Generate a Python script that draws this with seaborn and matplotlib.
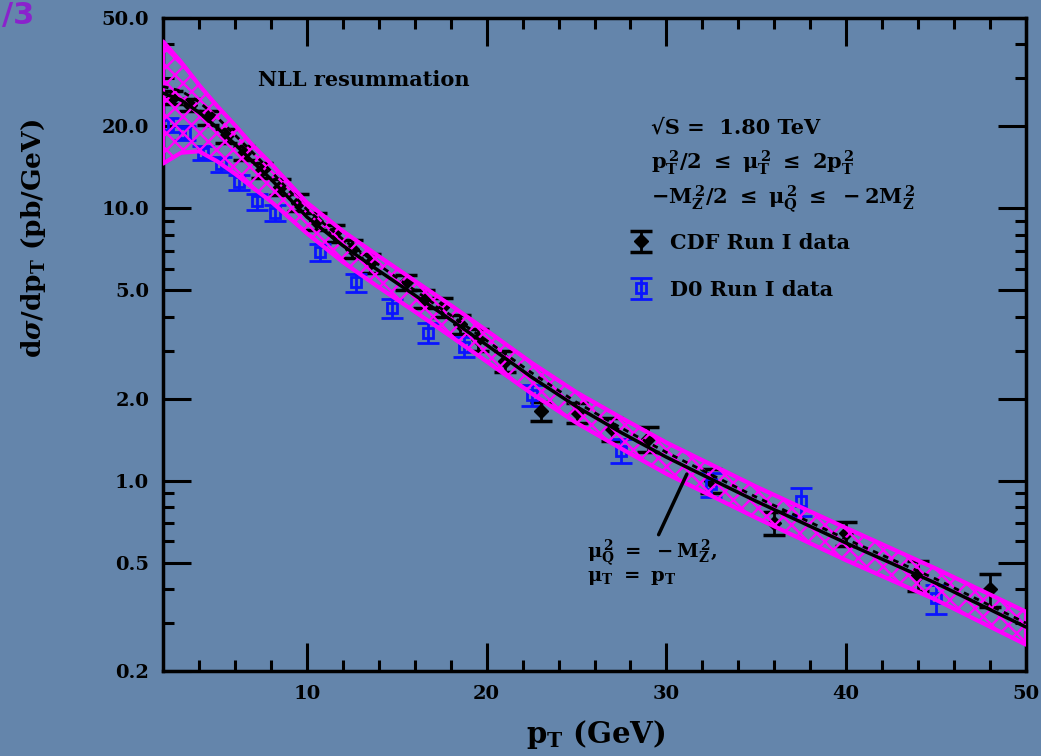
import numpy as np
import pandas as pd
import matplotlib
matplotlib.use("Agg")
import matplotlib.pyplot as plt
from matplotlib.ticker import FixedLocator, NullFormatter
import seaborn as sns

# theory curve (NLL resummation) and its scale band
pt_grid = [2, 3, 4, 5, 6, 7, 8, 10, 12, 14, 16, 18, 20, 22.5, 25, 27.5, 30, 35, 40, 45, 50]
nll_central = [26.5, 25.0, 22.5, 19.8, 17.2, 14.8, 12.8, 9.3, 7.3, 5.9, 4.8, 3.9, 3.15, 2.4, 1.87, 1.5, 1.22, 0.84, 0.59, 0.42, 0.29]
nll_alt = [28.0, 27.0, 24.6, 21.6, 18.6, 16.0, 13.7, 9.9, 7.7, 6.2, 5.0, 4.05, 3.27, 2.49, 1.94, 1.56, 1.27, 0.87, 0.61, 0.435, 0.30]
band_hi = [41.0, 34.5, 28.4, 23.8, 20.2, 17.0, 14.6, 10.5, 8.25, 6.67, 5.42, 4.41, 3.56, 2.71, 2.11, 1.70, 1.38, 0.95, 0.67, 0.475, 0.33]
band_lo = [14.6, 16.0, 16.2, 14.9, 13.4, 11.9, 10.6, 8.1, 6.35, 5.13, 4.18, 3.39, 2.74, 2.09, 1.63, 1.31, 1.06, 0.73, 0.51, 0.365, 0.25]

# CDF Run I data
cdf_pt = [2.5, 3.5, 4.5, 5.5, 6.5, 7.5, 8.5, 9.5, 10.5, 11.5, 12.5, 13.5, 15.5, 16.5, 17.5, 18.5, 19.5, 21, 23, 25, 27, 29, 32.5, 36, 40, 44, 48]
cdf_xs = [25.5, 24.0, 21.5, 18.5, 16.0, 13.8, 12.0, 10.5, 9.0, 8.1, 7.1, 6.3, 5.35, 4.65, 4.35, 3.75, 3.3, 2.75, 1.8, 1.78, 1.55, 1.42, 1.0, 0.70, 0.64, 0.45, 0.40]
cdf_err = [1.4, 1.3, 1.2, 1.1, 1.0, 0.9, 0.85, 0.75, 0.65, 0.6, 0.55, 0.5, 0.35, 0.35, 0.35, 0.3, 0.3, 0.25, 0.15, 0.15, 0.15, 0.15, 0.1, 0.07, 0.065, 0.055, 0.055]

# D0 Run I data
d0_pt = [2.25, 3.25, 4.25, 5.25, 6.25, 7.25, 8.25, 10.75, 12.75, 14.75, 16.75, 18.75, 22.5, 27.5, 32.5, 37.5, 45]
d0_xs = [20.2, 18.9, 16.0, 14.5, 12.5, 10.6, 9.6, 6.9, 5.35, 4.3, 3.5, 3.1, 2.06, 1.29, 0.97, 0.84, 0.37]
d0_err = [1.2, 1.1, 1.0, 0.9, 0.8, 0.7, 0.65, 0.5, 0.4, 0.33, 0.3, 0.26, 0.18, 0.13, 0.1, 0.1, 0.045]

y_ticks = [0.2, 0.5, 1, 2, 5, 10, 20, 50]
y_ticklabels = ["0.2", "0.5", "1.0", "2.0", "5.0", "10.0", "20.0", "50.0"]
x_ticks = [10, 20, 30, 40, 50]

theory = pd.DataFrame({"pt": pt_grid, "central": nll_central, "alt": nll_alt,
                       "lo": band_lo, "hi": band_hi})

bg = "#6485ab"
sns.set_style("ticks")
plt.rcParams["font.family"] = ["DejaVu Serif", "DejaVu Sans"]
plt.rcParams["font.weight"] = "bold"
plt.rcParams["text.color"] = "black"
plt.rcParams["xtick.color"] = "black"
plt.rcParams["ytick.color"] = "black"
plt.rcParams["xtick.labelcolor"] = "black"
plt.rcParams["ytick.labelcolor"] = "black"
plt.rcParams["mathtext.fontset"] = "custom"
plt.rcParams["mathtext.rm"] = "DejaVu Serif:bold"
plt.rcParams["mathtext.it"] = "DejaVu Serif:bold:italic"
plt.rcParams["mathtext.bf"] = "DejaVu Serif:bold"
plt.rcParams["hatch.linewidth"] = 1.7

fig = plt.figure(figsize=(10.41, 7.56), dpi=100, facecolor=bg)
ax = fig.add_axes([0.1566, 0.1124, 0.829, 0.8638])
ax.set_facecolor(bg)

# data points
ax.errorbar(cdf_pt, cdf_xs, yerr=cdf_err, fmt="D", color="black", ms=7,
            capsize=8, capthick=2.5, elinewidth=2, zorder=2, label="CDF Run I data")
ax.errorbar(d0_pt, d0_xs, yerr=d0_err, fmt="s", color="#0a14ff", mfc="none", mew=2,
            ms=7, capsize=8, capthick=2.5, elinewidth=2, zorder=2, label="D0 Run I data")

# scale band
ax.fill_between(theory["pt"], theory["lo"], theory["hi"], facecolor="none",
                edgecolor="#ff00ff", hatch="xx", linewidth=3, zorder=3)
sns.lineplot(data=theory, x="pt", y="alt", ax=ax, color="black", lw=2,
             linestyle=(0, (2, 2)), zorder=4)
sns.lineplot(data=theory, x="pt", y="central", ax=ax, color="black", lw=2.5, zorder=5)

ax.set_yscale("log")
ax.set_xlim(2, 50)
ax.set_ylim(0.2, 50)
ax.yaxis.set_major_locator(FixedLocator(y_ticks))
ax.set_yticklabels(y_ticklabels)
minor_y = [v * d for d in (0.1, 1, 10) for v in (3, 4, 6, 7, 8, 9)]
ax.yaxis.set_minor_locator(FixedLocator([v for v in minor_y if 0.2 < v < 50]))
ax.yaxis.set_minor_formatter(NullFormatter())
ax.xaxis.set_major_locator(FixedLocator(x_ticks))
ax.xaxis.set_minor_locator(FixedLocator([v for v in range(4, 50, 2) if v % 10]))
ax.tick_params(which="both", direction="in", top=True, right=True, width=2.2,
               labelsize=14, color="black", labelcolor="black", pad=10)
ax.tick_params(which="major", length=20)
ax.tick_params(which="minor", length=8)
for lab in ax.get_xticklabels() + ax.get_yticklabels():
    lab.set_fontweight("bold")
for s in ax.spines.values():
    s.set_linewidth(2.5)
    s.set_color("black")
ax.set_xlabel("")
ax.set_ylabel("")

fig.text(0.032, 0.685, r"d$\sigma$/dp$_\mathrm{T}$ (pb/GeV)", rotation=90,
         ha="center", va="center", fontsize=19, fontweight="bold")
fig.text(0.572, 0.028, r"p$_\mathrm{T}$ (GeV)", ha="center", va="center",
         fontsize=21, fontweight="bold")
fig.text(0.002, 0.999, "/3", ha="left", va="top", fontsize=22, color="#8a22cc",
         family="DejaVu Sans")

ax.text(0.11, 0.905, "NLL resummation", transform=ax.transAxes, fontsize=15,
        fontweight="bold", va="center")
ax.text(0.565, 0.832, "√S =  1.80 TeV", transform=ax.transAxes, fontsize=15,
        fontweight="bold", va="center")
ax.text(0.565, 0.778, r"$\mathrm{p_T^{\,2}/2\ \leq\ \mu_T^{\,2}\ \leq\ 2p_T^{\,2}}$",
        transform=ax.transAxes, fontsize=15, va="center")
ax.text(0.565, 0.722, r"$\mathrm{-M_Z^{\,2}/2\ \leq\ \mu_Q^{\,2}\ \leq\ -2M_Z^{\,2}}$",
        transform=ax.transAxes, fontsize=15, va="center")
leg = ax.legend(loc="upper left", bbox_to_anchor=(0.52, 0.70), frameon=False,
                fontsize=15, labelspacing=1.3, handlelength=1.0, handletextpad=0.9)
for t in leg.get_texts():
    t.set_color("black")

ax.annotate("", xy=(31.2, 1.08), xytext=(29.5, 0.62),
            arrowprops=dict(arrowstyle="-", color="black", lw=2.5))
ax.text(25.6, 0.54, r"$\mathrm{\mu_Q^{\,2}\ =\ -M_Z^{\,2},}$", fontsize=14, va="center")
ax.text(25.6, 0.44, r"$\mathrm{\mu_T\ =\ p_T}$", fontsize=14, va="center")

fig.savefig("out.png", dpi=100, facecolor=bg)
